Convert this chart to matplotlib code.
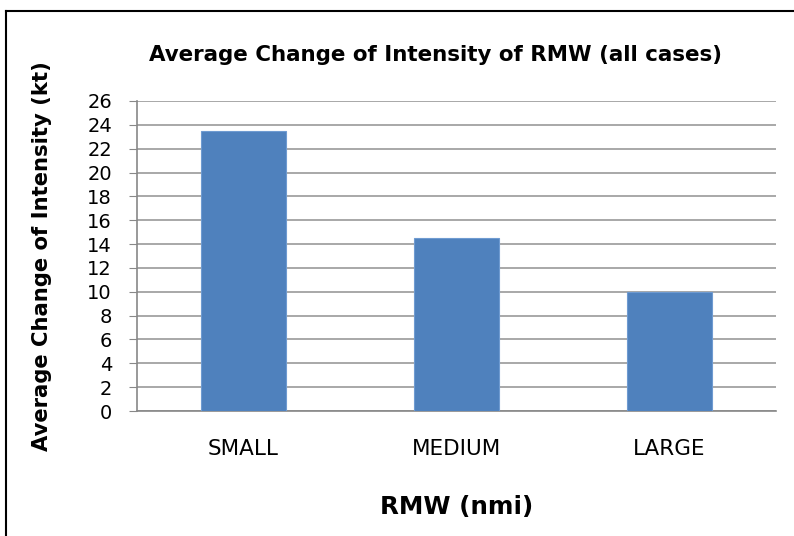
import matplotlib.pyplot as plt
from matplotlib.lines import Line2D

categories = ['SMALL', 'MEDIUM', 'LARGE']
avg_change = [23.5, 14.5, 10.0]
yticks = list(range(0, 27, 2))

plt.rcParams['font.family'] = ['DejaVu Sans']

fig = plt.figure(figsize=(7.94, 5.36), dpi=100)
ax = fig.add_axes([0.1725, 0.2332, 0.8045, 0.5784])

x = range(len(categories))
ax.bar(x, avg_change, width=0.4, color='#4f81bd', edgecolor='#6f9bd1', linewidth=0.8, zorder=3)

ax.set_xlim(-0.5, 2.5)
ax.set_ylim(0, 26)
ax.set_yticks(yticks)
ax.set_xticks(list(x))
ax.set_xticklabels(categories, fontsize=15.5)
ax.tick_params(axis='y', labelsize=14, length=6, color='#888888', pad=12)
ax.tick_params(axis='x', length=0, pad=20)
ax.grid(axis='y', color='#999999', linewidth=1.2, zorder=0)

for s in ['top', 'right']:
    ax.spines[s].set_visible(False)
ax.spines['left'].set_color('#888888')
ax.spines['bottom'].set_color('#888888')
ax.spines['left'].set_linewidth(1.2)
ax.spines['bottom'].set_linewidth(1.2)

ax.set_ylabel('Average Change of Intensity (kt)', fontsize=15.2, fontweight='bold', labelpad=25)
ax.set_xlabel('RMW (nmi)', fontsize=17.7, fontweight='bold', labelpad=26)
fig.text(0.548, 0.897, 'Average Change of Intensity of RMW (all cases)',
         ha='center', va='center', fontsize=15.4, fontweight='bold')

# outer chart border (left and top edges visible)
fig.add_artist(Line2D([5.5/794, 5.5/794], [0, 1 - 11/536], transform=fig.transFigure, color='black', linewidth=1.5))
fig.add_artist(Line2D([5.5/794, 1], [1 - 11/536, 1 - 11/536], transform=fig.transFigure, color='black', linewidth=1.5))

fig.savefig('out.png', dpi=100)
